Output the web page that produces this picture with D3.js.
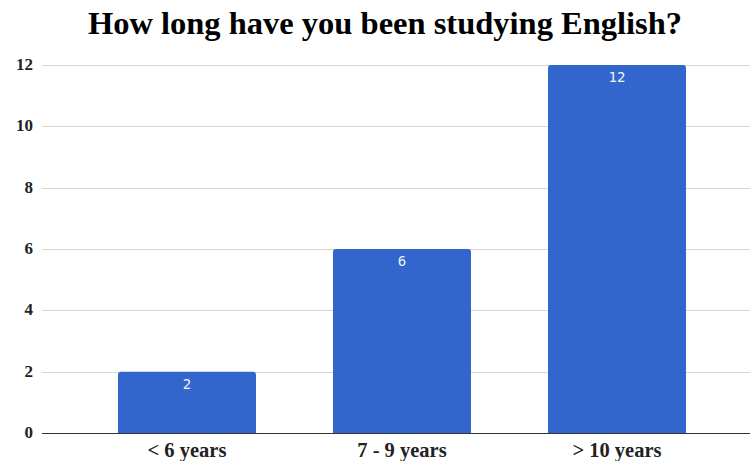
<!DOCTYPE html>
<html>
<head>
<meta charset="utf-8">
<script src="https://cdn.jsdelivr.net/npm/d3@7/dist/d3.min.js"></script>
<style>
  html, body { margin: 0; padding: 0; background: #fff; }
  svg { display: block; }
</style>
</head>
<body>
<svg id="chart" width="750" height="461"></svg>
<script>
// Survey answers: how long respondents have studied English
const categories = ["< 6 years", "7 - 9 years", "> 10 years"];
const counts = [2, 6, 12];
const yTicks = [0, 2, 4, 6, 8, 10, 12];

const width = 750, height = 461;
const svg = d3.select("#chart");

const gridLeft = 42, gridRight = 750;
const x = d3.scaleBand()
  .domain(categories)
  .range([79.5, 724.5])
  .paddingInner(0.358)
  .paddingOuter(0.179);

const y = d3.scaleLinear()
  .domain([0, 12])
  .range([433, 65]);

// Title
svg.append("text")
  .attr("x", 385)
  .attr("y", 34)
  .attr("text-anchor", "middle")
  .attr("font-family", "'Liberation Serif', serif")
  .attr("font-weight", "bold")
  .attr("font-size", 32.5)
  .attr("fill", "#000")
  .text("How long have you been studying English?");

// Horizontal gridlines
svg.append("g")
  .selectAll("line")
  .data(yTicks.filter(t => t !== 0))
  .join("line")
  .attr("x1", gridLeft)
  .attr("x2", gridRight)
  .attr("y1", d => Math.round(y(d)) + 0.5)
  .attr("y2", d => Math.round(y(d)) + 0.5)
  .attr("stroke", "#d6d6d6")
  .attr("stroke-width", 1);

// Y tick labels
svg.append("g")
  .selectAll("text")
  .data(yTicks)
  .join("text")
  .attr("x", 33)
  .attr("y", d => y(d) + 5)
  .attr("text-anchor", "end")
  .attr("font-family", "'Liberation Serif', serif")
  .attr("font-weight", "bold")
  .attr("font-size", 17)
  .attr("fill", "#222")
  .text(d => d);

// Bars with slightly rounded top corners
const r = 3;
svg.append("g")
  .selectAll("path")
  .data(categories.map((c, i) => ({ c, v: counts[i] })))
  .join("path")
  .attr("fill", "#3366cc")
  .attr("d", d => {
    const x0 = x(d.c), x1 = x0 + x.bandwidth();
    const y0 = y(d.v), y1 = y(0);
    return `M${x0},${y1}V${y0 + r}Q${x0},${y0} ${x0 + r},${y0}H${x1 - r}Q${x1},${y0} ${x1},${y0 + r}V${y1}Z`;
  });

// Value labels inside bars
svg.append("g")
  .selectAll("text")
  .data(categories.map((c, i) => ({ c, v: counts[i] })))
  .join("text")
  .attr("x", d => x(d.c) + x.bandwidth() / 2)
  .attr("y", d => y(d.v) + 17)
  .attr("text-anchor", "middle")
  .attr("font-family", "'DejaVu Sans Mono', monospace")
  .attr("font-size", 14)
  .attr("fill", "#eef2fb")
  .text(d => d.v);

// Baseline
svg.append("line")
  .attr("x1", gridLeft)
  .attr("x2", gridRight)
  .attr("y1", y(0) + 0.5)
  .attr("y2", y(0) + 0.5)
  .attr("stroke", "#333")
  .attr("stroke-width", 1.2);

// Category labels
svg.append("g")
  .selectAll("text")
  .data(categories)
  .join("text")
  .attr("x", d => x(d) + x.bandwidth() / 2)
  .attr("y", 457)
  .attr("text-anchor", "middle")
  .attr("font-family", "'Liberation Serif', serif")
  .attr("font-weight", "bold")
  .attr("font-size", 20.5)
  .attr("fill", "#222")
  .text(d => d);
</script>
</body>
</html>
